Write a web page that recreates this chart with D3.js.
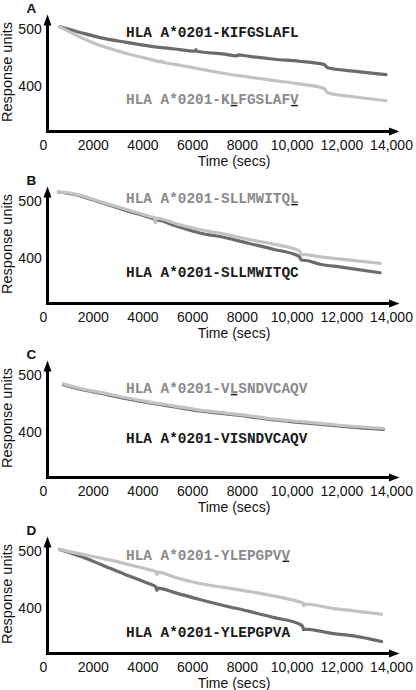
<!DOCTYPE html>
<html><head><meta charset="utf-8">
<script src="https://cdn.jsdelivr.net/npm/d3@7"></script>
<style>html,body{margin:0;padding:0;background:#fff;}svg{display:block;}</style>
</head><body>
<svg id="chart" width="416" height="690"></svg>
<script>
// ---------- data ----------
const xTicks = [0, 2000, 4000, 6000, 8000, 10000, 12000, 14000];
const yTicks = [400, 500];
const panelLetters = ["A", "B", "C", "D"];
const darkLabels = ["HLA A*0201-KIFGSLAFL", "HLA A*0201-SLLMWITQC", "HLA A*0201-VISNDVCAQV", "HLA A*0201-YLEPGPVA"];
const lightLabels = ["HLA A*0201-KLFGSLAFV", "HLA A*0201-SLLMWITQL", "HLA A*0201-VLSNDVCAQV", "HLA A*0201-YLEPGPVV"];
const lightUnderlines = [[12, 19], [19], [12], [18]];
const xTitle = "Time (secs)";
const yTitle = "Response units";

// [time (s), response units]
const aDark = [[680,503],[1500,493],[2300,484],[3300,476],[4300,469],[5300,464],[6120,460],[6150,463],[6180,460],[7300,455],[7800,452],[7850,453.5],[8300,451],[9300,446],[10300,442.5],[11300,437],[11450,431],[12500,425],[13800,419]];
const aLight = [[680,503],[1200,491],[2300,470],[3300,457],[4300,446],[4750,441.5],[4780,443],[4810,441],[5300,437],[6300,429],[7300,421],[8300,414.6],[9300,408.5],[10300,402.7],[11300,395],[11450,387],[12500,380],[13800,373]];
const bDark = [[616,515],[1200,511],[2300,497],[3300,483],[4300,470],[4480,467],[4520,462],[4560,466],[5300,456],[6300,443],[7300,435],[8300,424.5],[9300,414],[10300,402],[10400,395],[10500,395],[11150,388],[12000,383],[13560,373]];
const bLight = [[616,515],[1200,512],[2300,498],[3300,485],[4300,472],[4480,470],[4520,462],[4560,469],[5300,460],[6300,449],[7300,441],[8300,431.5],[9300,423],[10300,411.5],[10400,405],[10500,405],[11150,401],[12000,397],[13560,389.5]];
const cDark = [[818,482],[1500,474],[2300,467],[3300,458],[4300,450],[5300,443],[6300,436],[7300,431],[8300,426],[9300,420],[10300,416],[11300,412],[12300,408],[13700,403.5]];
const cLight = [[818,483.5],[1500,475.5],[2300,468.5],[3300,459.5],[4300,451.5],[5300,444.5],[6300,437.5],[7300,432.5],[8300,427.5],[9300,421.5],[10300,417.5],[11300,413.5],[12300,409.5],[13700,405.5]];
const dDark = [[657,502],[1500,490],[2300,476],[3300,458],[4300,441],[4540,436],[4580,430],[4620,434],[5300,426],[6300,414],[7300,403],[8300,393],[9300,382],[10300,371],[10440,367],[10480,361],[10520,362],[11700,354],[12500,350],[13620,340]];
const dLight = [[657,502],[1500,494],[2300,487],[3300,477],[4300,466],[4540,463],[4580,458],[4620,462],[5300,453],[6300,442],[7300,435],[8300,428],[9300,420],[10300,410],[10440,408],[10480,403],[10520,406],[11700,398],[12500,394],[13620,388]];

const darkSeries = [aDark, bDark, cDark, dDark];
const lightSeries = [aLight, bLight, cLight, dLight];

// ---------- layout ----------
const axisYs = [131.5, 303.5, 477.5, 653.5];
const axisX = 47.5;
const darkLabelOff = [-99.8, -31.8, -39.2, -21.8];
const lightLabelOff = [-32.2, -105.2, -89.2, -98.5];
const labelX = 126;
const labelFont = 14.4;
const darkColor = "#6b6b6b", lightColor = "#c2c2c2";

const svg = d3.select("#chart");
const x = d3.scaleLinear().domain([0, 14000]).range([43, 391]);

panelLetters.forEach((letter, i) => {
  const ay = axisYs[i];
  const y = d3.scaleLinear().domain([319, 500]).range([ay, ay - 103]);
  const g = svg.append("g");

  // panel letter
  g.append("text").attr("x", 26.5).attr("y", ay - 119)
    .attr("font-family", "Liberation Sans, Arial, sans-serif").attr("font-weight", "bold")
    .attr("font-size", 13.5).attr("fill", "#111").text(letter);

  // lines
  const line = d3.line().x(d => x(d[0])).y(d => y(d[1])).curve(d3.curveMonotoneX);
  g.append("path").datum(darkSeries[i]).attr("d", line).attr("fill", "none")
    .attr("stroke", darkColor).attr("stroke-width", 3.2).attr("stroke-linejoin", "round").attr("stroke-linecap", "round");
  g.append("path").datum(lightSeries[i]).attr("d", line).attr("fill", "none")
    .attr("stroke", lightColor).attr("stroke-width", 3.2).attr("stroke-linejoin", "round").attr("stroke-linecap", "round");

  // axes lines with arrows
  g.append("line").attr("x1", axisX).attr("x2", axisX).attr("y1", ay + 1.5).attr("y2", ay - 108)
    .attr("stroke", "#000").attr("stroke-width", 3);
  g.append("path").attr("d", `M${axisX - 4},${ay - 106} L${axisX},${ay - 117} L${axisX + 4},${ay - 106} Z`).attr("fill", "#000");
  g.append("line").attr("x1", axisX - 1.5).attr("x2", 391).attr("y1", ay).attr("y2", ay)
    .attr("stroke", "#000").attr("stroke-width", 3);
  g.append("path").attr("d", `M389,${ay - 4} L399.5,${ay} L389,${ay + 4} Z`).attr("fill", "#000");

  // x tick labels
  const xAxis = d3.axisBottom(x).tickValues(xTicks).tickSize(0).tickPadding(0)
    .tickFormat(d => d >= 10000 ? d3.format(",")(d) : String(d));
  const xg = g.append("g").attr("transform", `translate(0,${ay})`).call(xAxis);
  xg.select(".domain").remove();
  xg.selectAll("text").attr("dy", null).attr("y", 18.5)
    .attr("font-family", "Liberation Sans, Arial, sans-serif").attr("font-size", 14).attr("fill", "#111");

  // y tick labels
  const yAxis = d3.axisLeft(y).tickValues(yTicks).tickSize(0).tickPadding(0);
  const yg = g.append("g").attr("transform", `translate(41.7,0)`).call(yAxis);
  yg.select(".domain").remove();
  yg.selectAll("text").attr("x", 0).attr("dy", "0.36em")
    .attr("font-family", "Liberation Sans, Arial, sans-serif").attr("font-size", 14).attr("fill", "#111");

  // axis titles
  g.append("text").attr("x", 234).attr("y", ay + 34.5).attr("text-anchor", "middle")
    .attr("font-family", "Liberation Sans, Arial, sans-serif").attr("font-size", 14).attr("fill", "#111").text(xTitle);
  g.append("text").attr("transform", `translate(12,${ay - 59.5}) rotate(-90)`).attr("text-anchor", "middle")
    .attr("font-family", "Liberation Sans, Arial, sans-serif").attr("font-size", 14.5).attr("fill", "#111").text(yTitle);

  // series labels
  const charW = labelFont * 0.6;
  g.append("text").attr("x", labelX).attr("y", ay + darkLabelOff[i]).attr("dy", "0.35em")
    .attr("font-family", "Liberation Mono, Courier New, monospace").attr("font-weight", "bold")
    .attr("font-size", labelFont).attr("fill", "#1a1a1a").text(darkLabels[i]);
  g.append("text").attr("x", labelX).attr("y", ay + lightLabelOff[i]).attr("dy", "0.35em")
    .attr("font-family", "Liberation Mono, Courier New, monospace").attr("font-weight", "bold")
    .attr("font-size", labelFont).attr("fill", "#8a8a8a").text(lightLabels[i]);
  lightUnderlines[i].forEach(ci => {
    const ly = ay + lightLabelOff[i] + 6.3;
    g.append("line").attr("x1", labelX + ci * charW + 1).attr("x2", labelX + (ci + 1) * charW - 1)
      .attr("y1", ly).attr("y2", ly).attr("stroke", "#1a1a1a").attr("stroke-width", 1.5);
  });
});
</script>
</body></html>
